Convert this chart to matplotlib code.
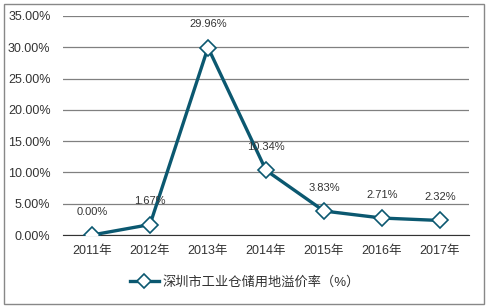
import matplotlib
matplotlib.use('Agg')
import matplotlib.pyplot as plt
from matplotlib.patches import Rectangle
from matplotlib.ticker import FuncFormatter

plt.rcParams['font.family'] = ['Liberation Sans', 'Noto Sans CJK SC', 'DejaVu Sans']

years = ['2011年', '2012年', '2013年', '2014年', '2015年', '2016年', '2017年']
rates = [0.00, 1.67, 29.96, 10.34, 3.83, 2.71, 2.32]
series_name = '深圳市工业仓储用地溢价率（%）'

line_color = '#0b5870'

fig = plt.figure(figsize=(4.89, 3.07), dpi=100)
ax = fig.add_axes([63 / 489, 1 - 235 / 307, 406 / 489, 219 / 307])

x = range(len(years))
ax.plot(x, rates, color=line_color, lw=2.4, marker='D', ms=8,
        mfc='white', mec=line_color, mew=1.2, label=series_name, zorder=3)

for i, v in enumerate(rates):
    ax.annotate(f'{v:.2f}%', (i, v), xytext=(0, 13), textcoords='offset points',
                ha='center', va='bottom', fontsize=8, color='#333333')

ax.set_xlim(-0.5, len(years) - 0.5)
ax.set_ylim(0, 35)
ax.set_yticks(range(0, 36, 5))
ax.yaxis.set_major_formatter(FuncFormatter(lambda v, p: f'{v:.2f}%'))
ax.set_xticks(list(x))
ax.set_xticklabels(years)
ax.grid(axis='y', color='#808080', lw=0.9)
ax.set_axisbelow(True)
for s in ['top', 'right', 'left']:
    ax.spines[s].set_visible(False)
ax.spines['bottom'].set_color('#333333')
ax.tick_params(axis='both', length=0, labelsize=9, colors='#333333')
ax.tick_params(axis='x', pad=7)
ax.tick_params(axis='y', pad=9)

leg = fig.legend(loc='center', bbox_to_anchor=(245 / 489, 1 - 282 / 307), frameon=False,
                 fontsize=9.5, handlelength=2.2, handletextpad=0.3, labelcolor='#333333')
for h in leg.legend_handles:
    h.set_markersize(7)

fig.patches.append(Rectangle((4 / 489, 3 / 307), 480 / 489, 300 / 307, transform=fig.transFigure,
                             fill=False, edgecolor='#888888', lw=1))

fig.savefig('out.png', dpi=100)
